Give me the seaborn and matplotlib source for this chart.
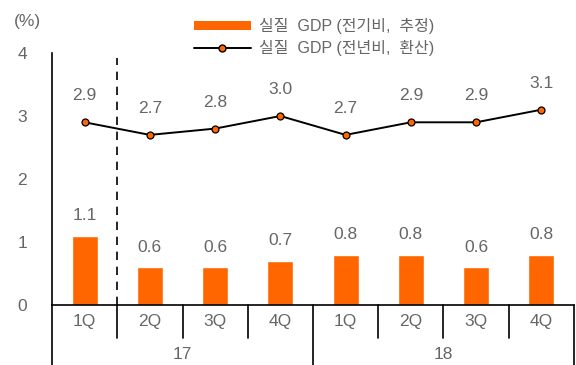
import numpy as np
import pandas as pd
import matplotlib
matplotlib.use('Agg')
import matplotlib.pyplot as plt
import matplotlib.transforms as mtransforms
from matplotlib.lines import Line2D
from matplotlib.patches import Patch
import seaborn as sns

# data
quarters = ['1Q', '2Q', '3Q', '4Q', '1Q', '2Q', '3Q', '4Q']
years = ['17', '18']
qoq = [1.1, 0.6, 0.6, 0.7, 0.8, 0.8, 0.6, 0.8]
yoy = [2.9, 2.7, 2.8, 3.0, 2.7, 2.9, 2.9, 3.1]
qoq_label = '실질  GDP (전기비,  추정)'
yoy_label = '실질  GDP (전년비,  환산)'

sns.set_style('white')
plt.rcParams['font.family'] = ['Liberation Sans', 'Noto Sans CJK KR']
grey = '#666666'
orange = '#FF6600'
fs = 12.5

df = pd.DataFrame({'key': [f'{y}-{q}' for y in years for q in quarters[:4]],
                   'qoq': qoq, 'yoy': yoy, 'pos': np.arange(len(qoq))})

fig = plt.figure(figsize=(5.76, 3.65), dpi=100)
ax = fig.add_axes([0.0903, 0.1644, 0.9062, 0.6904])

sns.barplot(data=df, x='key', y='qoq', color=orange, width=0.4,
            saturation=1, ax=ax)
sns.lineplot(data=df, x='pos', y='yoy', color='black', lw=1.4, marker='o',
             markersize=5, markerfacecolor=orange, markeredgecolor='black',
             markeredgewidth=0.9, ax=ax)

for i, v in enumerate(qoq):
    ax.text(i, v + 0.2, f'{v:.1f}', ha='center', va='bottom', fontsize=fs, color=grey)
for i, v in enumerate(yoy):
    ax.text(i, v + 0.3, f'{v:.1f}', ha='center', va='bottom', fontsize=fs, color=grey)

ax.axvline(0.5, ymin=0, ymax=0.98, color='black', lw=1.2, ls=(0, (5, 4)))

ax.set_xlim(-0.5, len(qoq) - 0.5)
ax.set_ylim(0, 4)
ax.set_yticks([0, 1, 2, 3, 4])
ax.tick_params(axis='y', direction='in', length=4, width=1, colors='black',
               labelcolor=grey, labelsize=fs, pad=18)
ax.set_xticks([])
ax.set_xlabel('')
ax.set_ylabel('')
for s in ['top', 'right']:
    ax.spines[s].set_visible(False)
for s in ['left', 'bottom']:
    ax.spines[s].set_color('black')
    ax.spines[s].set_linewidth(1.2)

# two-level category axis
trans = mtransforms.blended_transform_factory(ax.transData, ax.transAxes)
for b in np.arange(0.5, len(qoq) - 1, 1):
    if b == 3.5:
        continue
    ax.plot([b, b], [0, -0.13], color='black', lw=1.2, transform=trans, clip_on=False)
for b in [-0.5, 3.5, 7.5]:
    ax.plot([b, b], [0, -0.25], color='black', lw=1.2, transform=trans, clip_on=False)
for i, q in enumerate(quarters):
    ax.text(i, -0.065, q, ha='center', va='center', fontsize=fs, color=grey,
            transform=trans)
for j, y in enumerate(years):
    ax.text(1.5 + 4 * j, -0.195, y, ha='center', va='center', fontsize=fs,
            color=grey, transform=trans)

fig.text(0.047, 0.94, '(%)', ha='center', va='center', fontsize=fs, color=grey)

handles = [Patch(facecolor=orange, edgecolor='none'),
           Line2D([0], [0], color='black', lw=1.4, marker='o', markersize=5,
                  markerfacecolor=orange, markeredgecolor='black')]
fig.legend(handles, [qoq_label, yoy_label], loc='upper center',
           bbox_to_anchor=(0.545, 0.99), frameon=False, fontsize=11.5,
           labelcolor=grey, handlelength=3.6, handleheight=0.5,
           labelspacing=0.35, handletextpad=0.5)

fig.savefig('out.png', dpi=100)
